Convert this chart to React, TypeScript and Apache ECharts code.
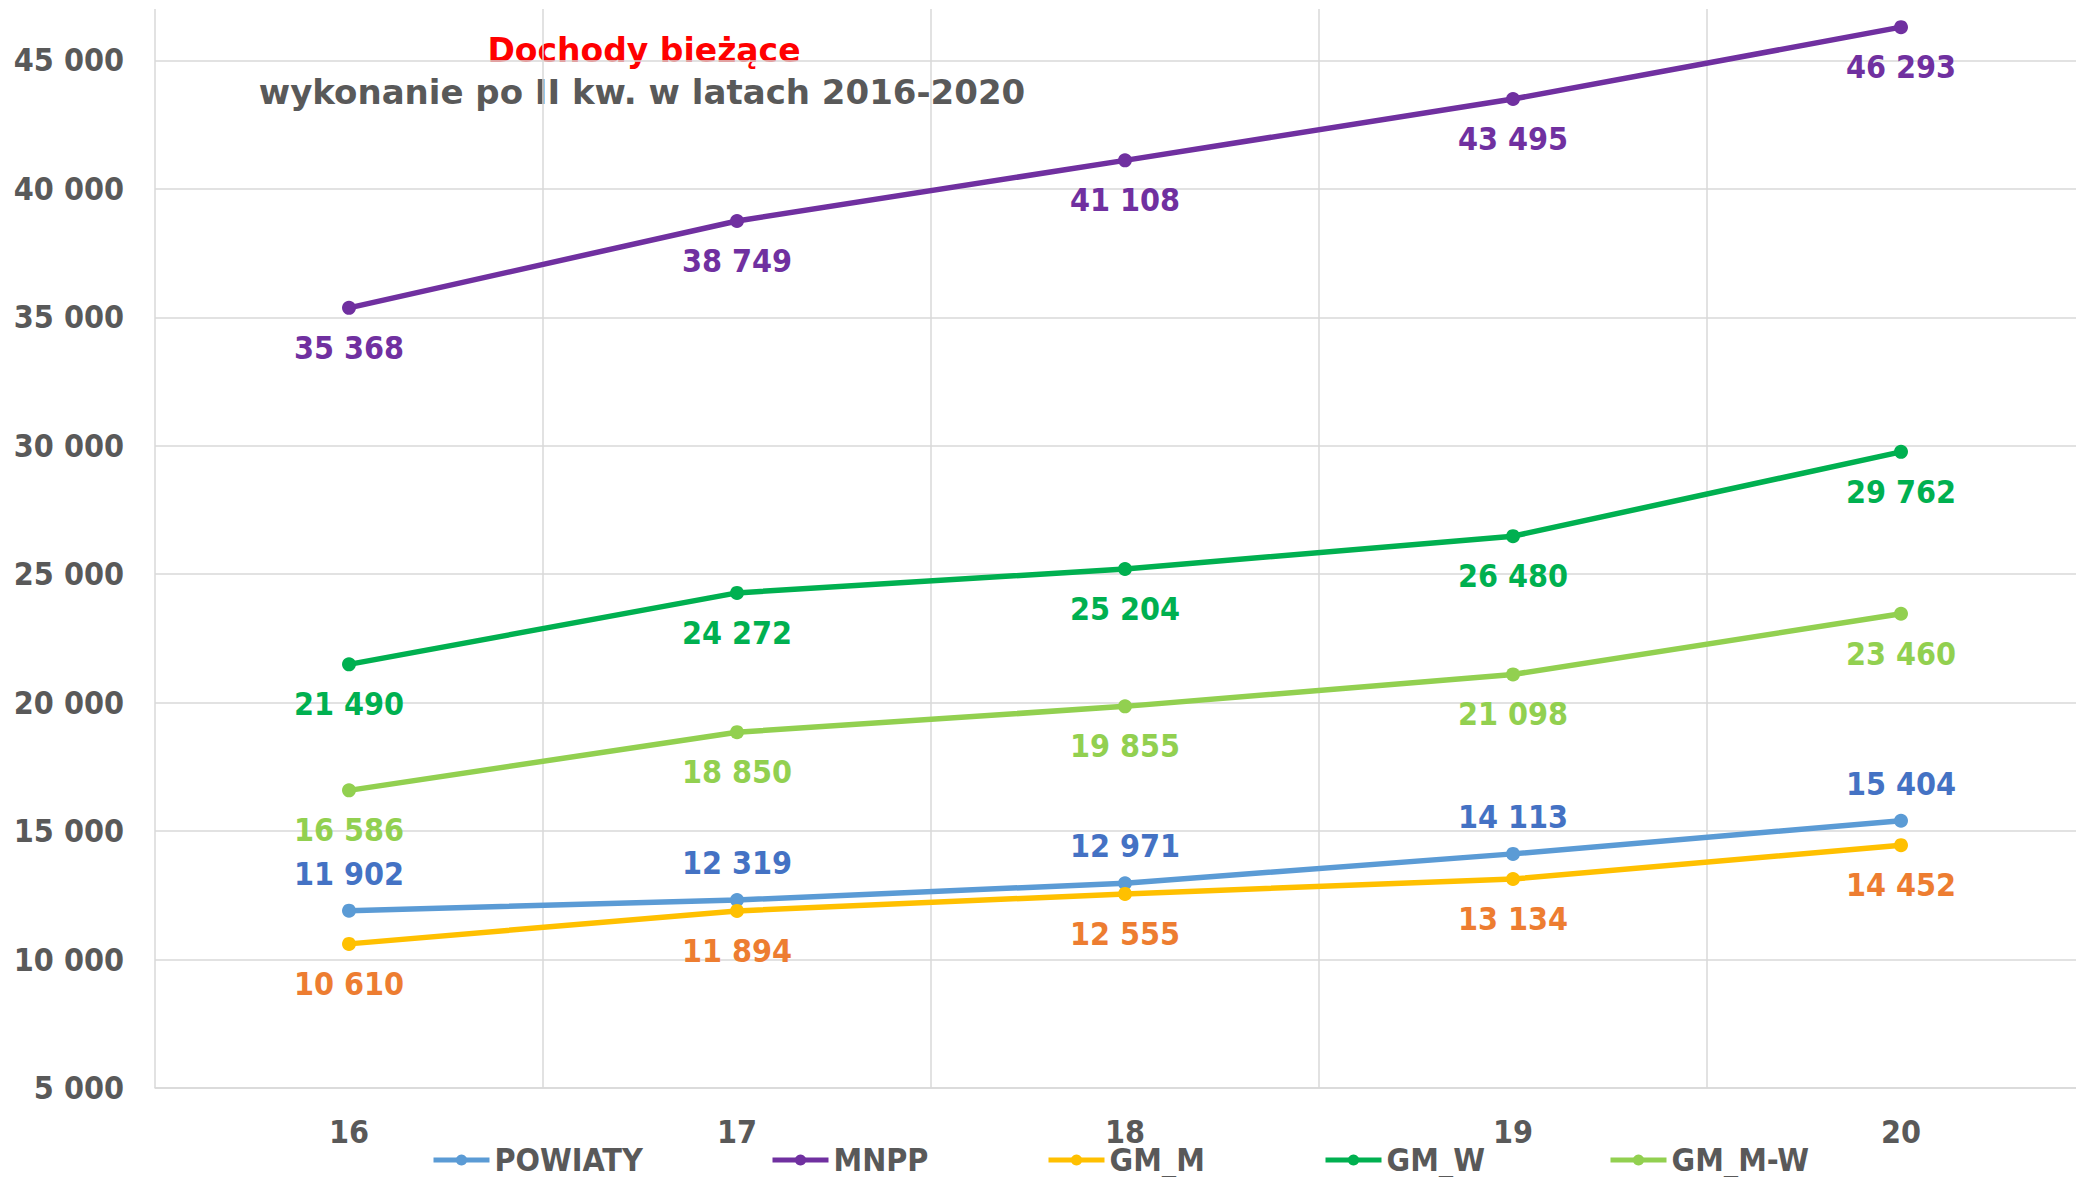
import React, { useEffect, useRef } from "react";
import * as echarts from "echarts";

const categories = ["16", "17", "18", "19", "20"];
const powiaty = [11902, 12319, 12971, 14113, 15404];
const mnpp = [35368, 38749, 41108, 43495, 46293];
const gmM = [10610, 11894, 12555, 13134, 14452];
const gmW = [21490, 24272, 25204, 26480, 29762];
const gmMW = [16586, 18850, 19855, 21098, 23460];

const seriesNames = ["POWIATY", "MNPP", "GM_M", "GM_W", "GM_M-W"];
const yMin = 5000;
const yMax = 47000;
const yInterval = 5000;

const titleMain = "Dochody bieżące";
const titleSub = "wykonanie po II kw. w latach 2016-2020";

const fmt = (n: number) => String(n).replace(/\B(?=(\d{3})+(?!\d))/g, " ");

const FONT = "'DejaVu Sans Condensed', 'DejaVu Sans', sans-serif";
const GRAY = "#595959";
const GRID = "#D9D9D9";

export default function App() {
  const ref = useRef<HTMLDivElement>(null);
  useEffect(() => {
    if (!ref.current) return;
    const chart = echarts.init(ref.current, undefined, { renderer: "svg" });

    const mk = (
      name: string,
      data: number[],
      lineColor: string,
      labelColor: string,
      pos: "top" | "bottom",
      dist: number
    ) => ({
      name,
      type: "line",
      data,
      symbol: "circle",
      symbolSize: 14,
      lineStyle: { color: lineColor, width: 5.5 },
      itemStyle: { color: lineColor },
      label: {
        show: true,
        position: pos,
        distance: dist,
        color: labelColor,
        fontFamily: FONT,
        fontWeight: "bold",
        fontSize: 32,
        formatter: (p: any) => fmt(p.value),
      },
    });

    const tickCount = Math.floor((yMax - yMin) / yInterval) + 2;
    const splitColors: string[] = [];
    for (let i = 0; i < tickCount; i++) {
      splitColors.push(i === tickCount - 1 ? "rgba(0,0,0,0)" : GRID);
    }

    const legendLefts = [426, 765, 1041, 1318, 1603];

    chart.setOption({
      animation: false,
      backgroundColor: "#ffffff",
      grid: { left: 155, right: 5, top: 9, bottom: 89, containLabel: false },
      xAxis: {
        type: "category",
        data: categories,
        boundaryGap: true,
        axisTick: { show: false },
        axisLine: { show: true, lineStyle: { color: GRID, width: 1.5 } },
        splitLine: { show: true, lineStyle: { color: GRID, width: 1.5 } },
        axisLabel: {
          color: GRAY,
          fontFamily: FONT,
          fontWeight: "bold",
          fontSize: 32,
          margin: 28,
        },
      },
      yAxis: {
        type: "value",
        min: yMin,
        max: yMax,
        interval: yInterval,
        axisLine: { show: false },
        axisTick: { show: false },
        splitLine: { show: true, lineStyle: { color: splitColors, width: 1.5 } },
        axisLabel: {
          color: GRAY,
          fontFamily: FONT,
          fontWeight: "bold",
          fontSize: 32,
          margin: 31,
          showMaxLabel: false,
          formatter: (v: number) => fmt(v),
        },
      },
      legend: seriesNames.map((n, i) => ({
        data: [n],
        left: legendLefts[i],
        top: 1139,
        itemWidth: 56,
        itemHeight: 14,
        itemGap: 0,
        lineStyle: { width: 5 },
        textStyle: {
          color: GRAY,
          fontFamily: FONT,
          fontWeight: "bold",
          fontSize: 32,
          lineHeight: 32,
        },
      })),
      graphic: [
        {
          type: "text",
          x: 644,
          y: 50,
          style: {
            text: titleMain,
            fill: "#FF0000",
            font: "bold 33px 'DejaVu Sans', sans-serif",
            textAlign: "center",
            textVerticalAlign: "middle",
          },
        },
        {
          type: "text",
          x: 642,
          y: 92,
          style: {
            text: titleSub,
            fill: GRAY,
            font: "bold 34px 'DejaVu Sans', sans-serif",
            textAlign: "center",
            textVerticalAlign: "middle",
          },
        },
      ],
      series: [
        mk(seriesNames[0], powiaty, "#5B9BD5", "#4472C4", "top", 14),
        mk(seriesNames[1], mnpp, "#7030A0", "#7030A0", "bottom", 17),
        mk(seriesNames[2], gmM, "#FFC000", "#ED7D31", "bottom", 17),
        mk(seriesNames[3], gmW, "#00B050", "#00B050", "bottom", 17),
        mk(seriesNames[4], gmMW, "#92D050", "#92D050", "bottom", 17),
      ],
    });
    return () => chart.dispose();
  }, []);
  return (
    <div
      style={{
        position: "fixed",
        left: 0,
        top: 0,
        width: 2076,
        height: 1177,
        overflow: "hidden",
        background: "#ffffff",
      }}
    >
      <div ref={ref} style={{ width: 2100, height: 1177 }} />
    </div>
  );
}
